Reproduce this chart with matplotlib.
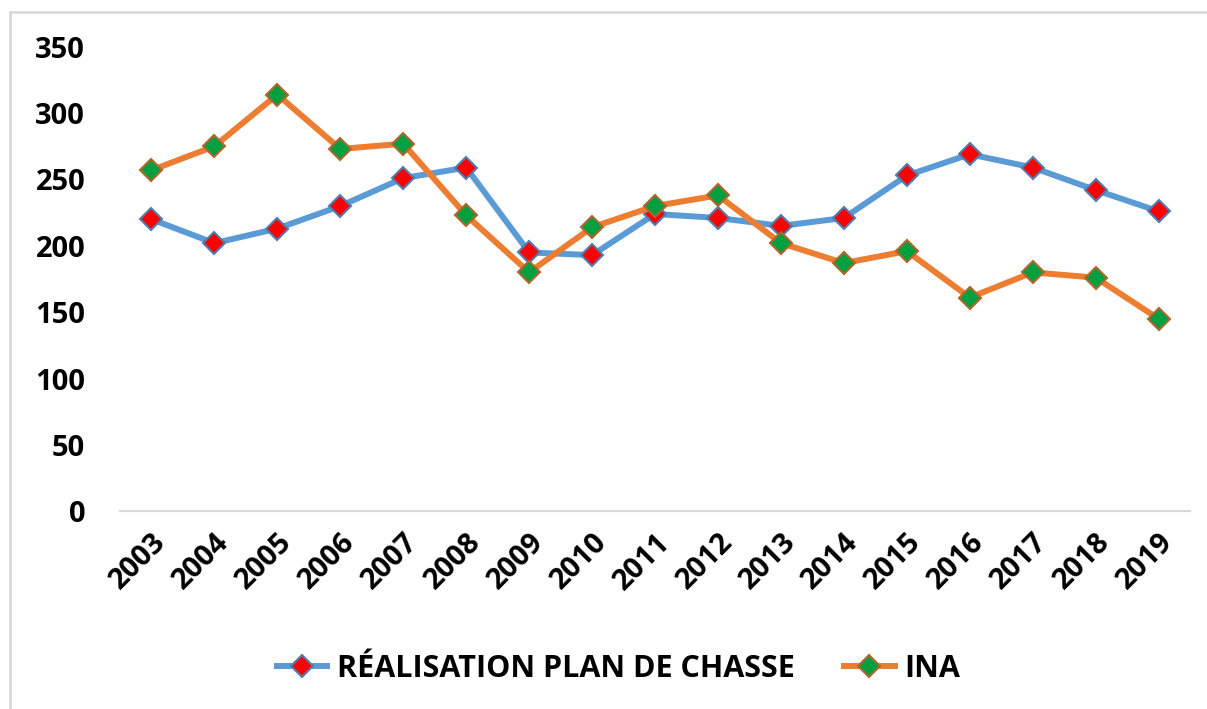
import numpy as np
import matplotlib.pyplot as plt
from matplotlib.lines import Line2D

# Data
years = ["2003", "2004", "2005", "2006", "2007", "2008", "2009", "2010", "2011",
         "2012", "2013", "2014", "2015", "2016", "2017", "2018", "2019"]
realisation = [220, 202, 213, 230, 251, 259, 195, 193, 224, 221, 215, 221, 253, 269, 259, 242, 226]
ina = [257, 275, 314, 273, 277, 223, 180, 214, 230, 238, 202, 187, 196, 161, 180, 176, 145]

plt.rcParams['font.family'] = ['Open Sans', 'DejaVu Sans']

fig = plt.figure(figsize=(12.07, 7.09), dpi=100)
ax = fig.add_axes([0.0994, 0.279, 0.8866, 0.655])

x = np.arange(len(years))

ax.plot(x, realisation, color="#5B9BD5", lw=4.3, marker="D", markersize=11,
        markerfacecolor="#FF0000", markeredgecolor="#4F7EAF", markeredgewidth=1.5,
        label="RÉALISATION PLAN DE CHASSE", solid_joinstyle="round")
ax.plot(x, ina, color="#ED7D31", lw=4.3, marker="D", markersize=11,
        markerfacecolor="#00A040", markeredgecolor="#B0662C", markeredgewidth=1.5,
        label="INA", solid_joinstyle="round")

ax.set_xlim(-0.5, len(years) - 0.5)
ax.set_ylim(0, 350)
ax.set_yticks(np.arange(0, 351, 50))
ax.set_xticks(x)
ax.set_xticklabels(years, rotation=45, ha="right", rotation_mode="anchor")

for lab in ax.get_xticklabels() + ax.get_yticklabels():
    lab.set_fontweight("bold")
    lab.set_fontsize(21)

ax.tick_params(axis="both", length=0)
ax.tick_params(axis="y", pad=25)
ax.tick_params(axis="x", pad=12)

for side in ["top", "right", "left"]:
    ax.spines[side].set_visible(False)
ax.spines["bottom"].set_color("#D9D9D9")
ax.spines["bottom"].set_linewidth(1.5)

leg = ax.legend(loc="center", bbox_to_anchor=(0.466, -0.34), ncol=2, frameon=False,
                prop={"weight": "bold", "size": 22}, handlelength=1.65,
                columnspacing=1.6, handletextpad=0.33)

# chart border (left and top only visible)
fig.add_artist(Line2D([10 / 1207, 10 / 1207], [0, 1 - 12 / 709], color="#D9D9D9", lw=2,
                      transform=fig.transFigure))
fig.add_artist(Line2D([10 / 1207, 1], [1 - 12 / 709, 1 - 12 / 709], color="#D9D9D9", lw=2,
                      transform=fig.transFigure))

fig.savefig("out.png", dpi=100)
